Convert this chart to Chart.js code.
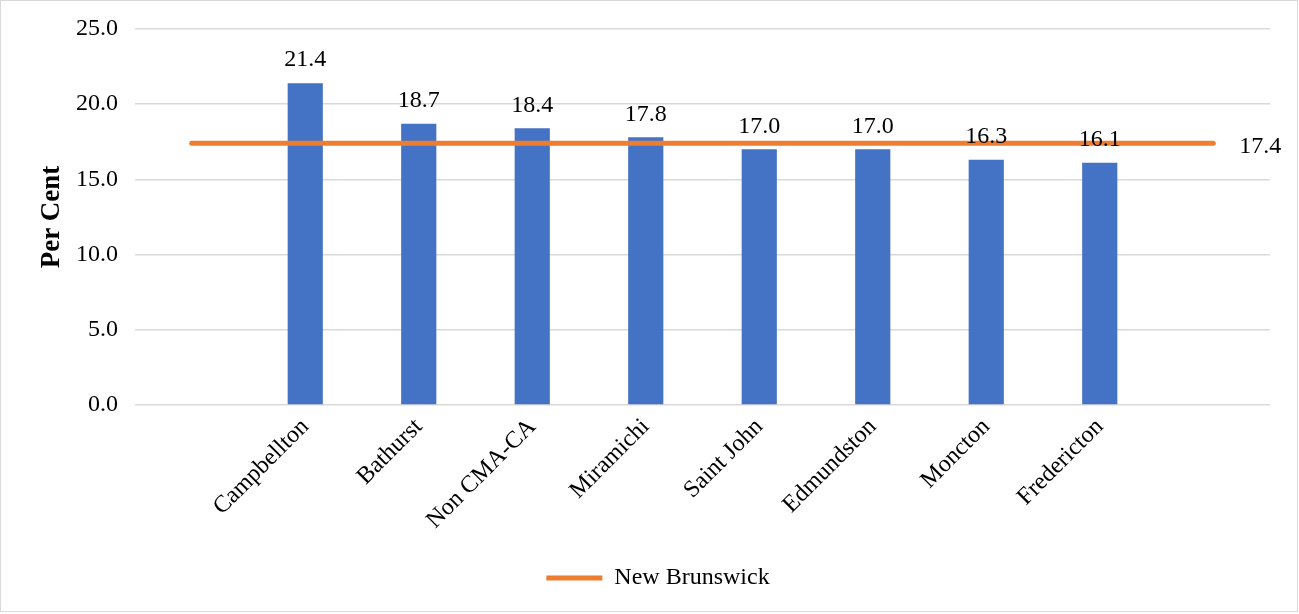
<!DOCTYPE html>
<html>
<head>
<meta charset="utf-8">
<script src="https://cdn.jsdelivr.net/npm/chart.js@4/dist/chart.umd.min.js"></script>
<style>
  html, body { margin: 0; padding: 0; background: #fff; }
  #wrap { width: 1299px; height: 614px; position: relative; }
</style>
</head>
<body>
<div id="wrap"><canvas id="c" width="1299" height="614"></canvas></div>
<script>
const categories = ['', 'Campbellton', 'Bathurst', 'Non CMA-CA', 'Miramichi', 'Saint John', 'Edmundston', 'Moncton', 'Fredericton', ''];
const cityValues = [null, 21.4, 18.7, 18.4, 17.8, 17.0, 17.0, 16.3, 16.1, null];
const provinceValue = 17.4;
const provinceLine = categories.map(() => provinceValue);
const lineLabel = 'New Brunswick';
const yAxisTitle = 'Per Cent';

const FONT = "'Liberation Serif', 'Times New Roman', serif";

const bgBorder = {
  id: 'bgBorder',
  beforeDraw(chart) {
    const ctx = chart.ctx;
    ctx.save();
    ctx.fillStyle = '#ffffff';
    ctx.fillRect(0, 0, chart.width, chart.height);
    ctx.strokeStyle = '#d9d9d9';
    ctx.lineWidth = 1;
    ctx.strokeRect(0.5, 0.5, chart.width - 2, chart.height - 3);
    ctx.restore();
  }
};

const valueLabels = {
  id: 'valueLabels',
  afterDatasetsDraw(chart) {
    const ctx = chart.ctx;
    ctx.save();
    ctx.font = '24px ' + FONT;
    ctx.fillStyle = '#000';
    const barMeta = chart.getDatasetMeta(0);
    barMeta.data.forEach((el, i) => {
      const v = cityValues[i];
      if (v === null || v === undefined) return;
      ctx.textAlign = 'center';
      ctx.textBaseline = 'bottom';
      ctx.fillText(v.toFixed(1), el.x, el.y - 11);
    });
    const lineMeta = chart.getDatasetMeta(1);
    const last = lineMeta.data[lineMeta.data.length - 1];
    ctx.textAlign = 'left';
    ctx.textBaseline = 'middle';
    ctx.fillText(provinceValue.toFixed(1), last.x + 26, last.y + 3);
    ctx.restore();
  }
};

new Chart(document.getElementById('c'), {
  data: {
    labels: categories,
    datasets: [
      {
        type: 'bar',
        label: 'Cities',
        data: cityValues,
        backgroundColor: '#4472C4',
        categoryPercentage: 1,
        barPercentage: 0.31,
        order: 1
      },
      {
        type: 'line',
        label: lineLabel,
        data: provinceLine,
        borderColor: '#ED7D31',
        backgroundColor: '#ED7D31',
        borderWidth: 5,
        borderCapStyle: 'round',
        pointRadius: 0,
        pointHoverRadius: 0,
        fill: false,
        order: 0
      }
    ]
  },
  options: {
    responsive: false,
    animation: false,
    devicePixelRatio: 1,
    layout: { padding: { top: 29, right: 29, bottom: 14, left: 46 } },
    plugins: {
      tooltip: { enabled: false },
      legend: {
        position: 'bottom',
        labels: {
          filter: (item) => item.datasetIndex === 1,
          usePointStyle: true,
          pointStyle: 'line',
          pointStyleWidth: 56,
          color: '#000',
          font: { family: FONT, size: 24 },
          padding: 8
        }
      }
    },
    scales: {
      x: {
        offset: true,
        grid: { display: false, drawTicks: false },
        border: { display: false },
        ticks: {
          color: '#000',
          font: { family: FONT, size: 24 },
          minRotation: 45,
          maxRotation: 45,
          autoSkip: false,
          padding: 8
        },
        afterFit(scale) { scale.height = 153; }
      },
      y: {
        min: 0,
        max: 25,
        ticks: {
          stepSize: 5,
          color: '#000',
          font: { family: FONT, size: 24 },
          padding: 0,
          callback: (v) => Number(v).toFixed(1)
        },
        grid: { color: '#d9d9d9', lineWidth: 1.5, drawTicks: true, tickLength: 17, tickColor: 'rgba(0,0,0,0)' },
        border: { display: false },
        title: {
          display: true,
          text: yAxisTitle,
          color: '#000',
          font: { family: FONT, size: 27, weight: 'bold', lineHeight: 0.5 },
          padding: { top: -1, bottom: 0 }
        },
        afterFit(scale) { scale.width = 89; }
      }
    }
  },
  plugins: [bgBorder, valueLabels]
});
</script>
</body>
</html>
